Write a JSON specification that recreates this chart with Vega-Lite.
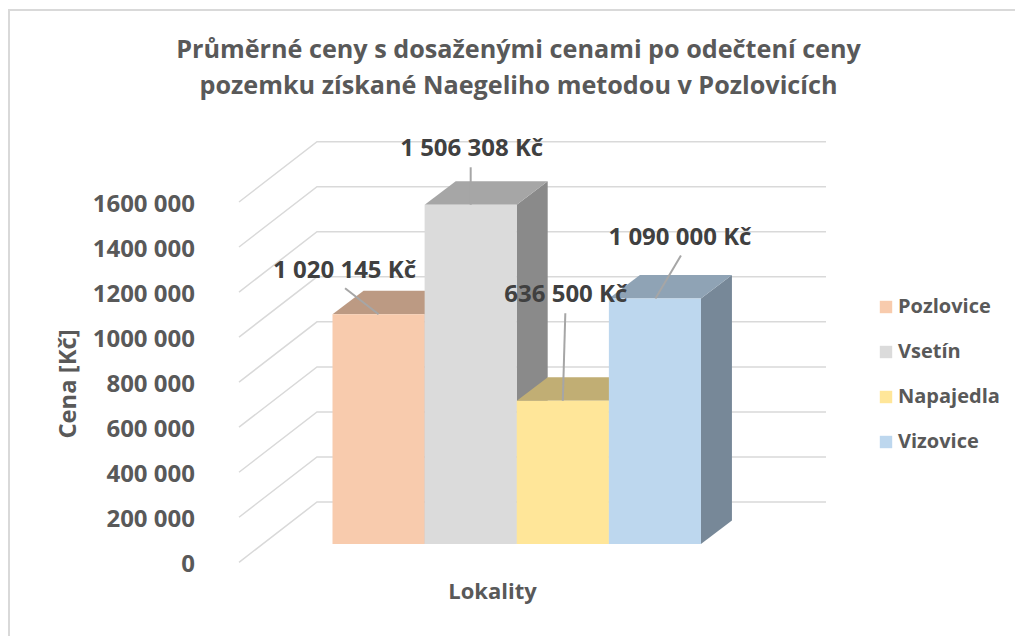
{
"$schema":"https://vega.github.io/schema/vega-lite/v6.json",
"width":1015,"height":636,"padding":0,"autosize":{"type":"none"},
"background":"#ffffff",
"view":{"stroke":null},
"title":{"text":["Průměrné ceny s dosaženými cenami po odečtení ceny","pozemku získané Naegeliho metodou v Pozlovicích"],"font":"Open Sans","fontSize":25.2,"fontWeight":"bold","color":"#595959","anchor":"middle","dx":11,"offset":-111.5,"lineHeight":36.5,"baseline":"middle"},
"data":{"values":[
{"Lokalita":"Pozlovice","cena":1020145,"popisek":"1 020 145 Kč"},
{"Lokalita":"Vsetín","cena":1506308,"popisek":"1 506 308 Kč"},
{"Lokalita":"Napajedla","cena":636500,"popisek":"636 500 Kč"},
{"Lokalita":"Vizovice","cena":1090000,"popisek":"1 090 000 Kč"}
]},
"resolve":{"scale":{"color":"independent","shape":"independent"}},
"layer":[
{"data":{"values":[{}]},"mark":{"type":"rect","fillOpacity":0,"stroke":"#D9D9D9","strokeWidth":2},"encoding":{"x":{"value":9},"x2":{"value":1040},"y":{"value":10},"y2":{"value":660}}},
{"data":{"values":[{"hodnota":0},{"hodnota":200000},{"hodnota":400000},{"hodnota":600000},{"hodnota":800000},{"hodnota":1000000},{"hodnota":1200000},{"hodnota":1400000},{"hodnota":1600000}]},
"mark":{"type":"point","filled":false,"opacity":1,"size":4,"stroke":"#D9D9D9","strokeWidth":1.5,"shape":"M-268.5 18.3L-190.5 -42L318.5 -42"},
"encoding":{"y":{"field":"hodnota","type":"quantitative","scale":{"domain":[-408526,2415630],"range":[636,0],"nice":false,"zero":false},
"axis":{"values":[0,200000,400000,600000,800000,1000000,1200000,1400000,1600000],"labelExpr":"datum.value==0?'0':(datum.value/1000)+' 000'","orient":"left","offset":-194.5,"domain":false,"ticks":false,"grid":false,"labelPadding":0,"labelOffset":21,"labelFont":"Open Sans","labelFontWeight":"bold","labelFontSize":24,"labelColor":"#595959","labelOverlap":false,"title":"Cena [Kč]","titleFont":"Open Sans","titleFontWeight":"bold","titleFontSize":23.8,"titleColor":"#595959","titleX":-126.5,"titleY":383.5,"titleAngle":-90,"titleAlign":"center","titleBaseline":"middle"}}}},
{"mark":{"type":"point","filled":true,"opacity":1,"size":4},
"encoding":{"x":{"field":"Lokalita","type":"nominal"},"y":{"field":"cena","type":"quantitative"},
"shape":{"field":"Lokalita","type":"nominal","legend":null,"scale":{"domain":["Pozlovice","Vsetín","Napajedla","Vizovice"],"range":["M46 0L77 -23.5L77 206.2L46 229.7Z","M46 0L77 -23.5L77 315.7L46 339.2Z","M46 0L77 -23.5L77 119.8L46 143.3Z","M46 0L77 -23.5L77 222L46 245.5Z"]}},
"color":{"field":"Lokalita","type":"nominal","legend":null,"scale":{"domain":["Pozlovice","Vsetín","Napajedla","Vizovice"],"range":["#9C806D","#8A8A8A","#A19160","#778898"]}}}},
{"mark":{"type":"point","filled":true,"opacity":1,"size":4,"shape":"M-46 0L-15 -23.5L77 -23.5L46 0Z"},
"encoding":{"x":{"field":"Lokalita","type":"nominal"},"y":{"field":"cena","type":"quantitative"},
"color":{"field":"Lokalita","type":"nominal","legend":null,"scale":{"domain":["Pozlovice","Vsetín","Napajedla","Vizovice"],"range":["#BC9A83","#A6A6A6","#C1AE74","#8FA3B5"]}}}},
{"mark":{"type":"bar"},
"encoding":{"x":{"field":"Lokalita","type":"nominal","sort":null,"scale":{"type":"band","domain":["Pozlovice","Vsetín","Napajedla","Vizovice"],"range":[332.5,701],"paddingInner":0,"paddingOuter":0},
"axis":{"orient":"bottom","labels":false,"ticks":false,"domain":false,"grid":false,"title":"Lokality","titleFont":"Open Sans","titleFontWeight":"bold","titleFontSize":22,"titleColor":"#595959","titleX":492,"titleY":-45,"titleAlign":"center","titleBaseline":"middle"}},
"y":{"field":"cena","type":"quantitative"},
"color":{"field":"Lokalita","type":"nominal","scale":{"domain":["Pozlovice","Vsetín","Napajedla","Vizovice"],"range":["#F8CBAD","#DBDBDB","#FFE699","#BDD7EE"]},
"legend":{"title":null,"orient":"none","legendX":876,"legendY":297,"symbolType":"square","symbolSize":154,"symbolStrokeWidth":0,"symbolOpacity":1,"labelFont":"Open Sans","labelFontWeight":"bold","labelFontSize":20,"labelColor":"#595959","labelOffset":2,"rowPadding":25,"padding":0,"labelLimit":200}}}},
{"mark":{"type":"point","filled":false,"opacity":1,"size":4,"stroke":"#A6A6A6","strokeWidth":2},
"encoding":{"x":{"field":"Lokalita","type":"nominal"},"y":{"field":"cena","type":"quantitative"},
"shape":{"field":"Lokalita","type":"nominal","legend":null,"scale":{"domain":["Pozlovice","Vsetín","Napajedla","Vizovice"],"range":["M-33.5 -26L0 0","M0 -37.5L0 0","M2.5 -87.5L0 0","M26 -43L0.5 0"]}}}},
{"transform":[{"filter":"datum.Lokalita=='Pozlovice'"}],"mark":{"type":"text","font":"Open Sans","fontWeight":"bold","fontSize":24,"color":"#404040","align":"center","baseline":"middle","dx":-34,"dy":-43},"encoding":{"x":{"field":"Lokalita","type":"nominal"},"y":{"field":"cena","type":"quantitative"},"text":{"field":"popisek"}}},
{"transform":[{"filter":"datum.Lokalita=='Vsetín'"}],"mark":{"type":"text","font":"Open Sans","fontWeight":"bold","fontSize":24,"color":"#404040","align":"center","baseline":"middle","dx":1,"dy":-56},"encoding":{"x":{"field":"Lokalita","type":"nominal"},"y":{"field":"cena","type":"quantitative"},"text":{"field":"popisek"}}},
{"transform":[{"filter":"datum.Lokalita=='Napajedla'"}],"mark":{"type":"text","font":"Open Sans","fontWeight":"bold","fontSize":24,"color":"#404040","align":"center","baseline":"middle","dx":3,"dy":-106},"encoding":{"x":{"field":"Lokalita","type":"nominal"},"y":{"field":"cena","type":"quantitative"},"text":{"field":"popisek"}}},
{"transform":[{"filter":"datum.Lokalita=='Vizovice'"}],"mark":{"type":"text","font":"Open Sans","fontWeight":"bold","fontSize":24,"color":"#404040","align":"center","baseline":"middle","dx":25,"dy":-61},"encoding":{"x":{"field":"Lokalita","type":"nominal"},"y":{"field":"cena","type":"quantitative"},"text":{"field":"popisek"}}}
]
}
